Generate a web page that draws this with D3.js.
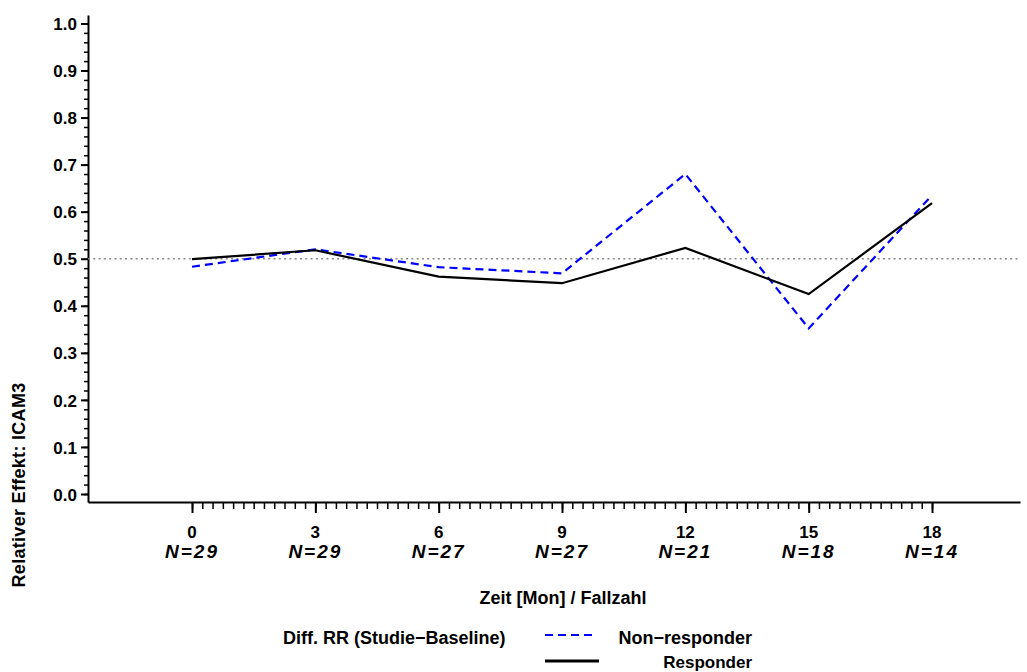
<!DOCTYPE html>
<html>
<head>
<meta charset="utf-8">
<script src="https://cdn.jsdelivr.net/npm/d3@7"></script>
<style>
  body { margin: 0; background: #fff; }
  svg { display: block; font-family: "Liberation Sans", Arial, sans-serif; font-weight: bold; }
  .axis path, .axis line { stroke: #000; stroke-width: 2; }
  .minor line { stroke-width: 1.5; }
  .axis text { fill: #000; font-size: 17px; font-weight: bold; }
</style>
</head>
<body>
<svg width="1027" height="672"></svg>
<script>
const months = [0, 3, 6, 9, 12, 15, 18];
const caseCounts = [29, 29, 27, 27, 21, 18, 14];
const nonResponder = [0.483, 0.520, 0.482, 0.469, 0.680, 0.352, 0.635];
const responder = [0.499, 0.518, 0.462, 0.448, 0.523, 0.425, 0.618];
const yTicks = [0, 0.1, 0.2, 0.3, 0.4, 0.5, 0.6, 0.7, 0.8, 0.9, 1.0];
const reference = 0.5;

(function () {
  const svg = d3.select("svg");

  const x = d3.scaleLinear().domain([-2.53, 20.14]).range([88, 1020]);
  const y = d3.scaleLinear().domain([-0.017, 1.018]).range([502, 15]);

  const xMinor = d3.range(0, 18.001, 0.25);
  const yMinor = d3.range(0, 1.0001, 0.02);

  // minor ticks first, majors on top
  svg.append("g")
    .attr("class", "axis minor")
    .attr("transform", `translate(0,${y.range()[0]})`)
    .call(d3.axisBottom(x).tickValues(xMinor).tickSize(7).tickFormat(""))
    .select(".domain").remove();

  svg.append("g")
    .attr("class", "axis minor")
    .attr("transform", `translate(${x.range()[0]},0)`)
    .call(d3.axisLeft(y).tickValues(yMinor).tickSize(4).tickFormat(""))
    .select(".domain").remove();

  svg.append("g")
    .attr("class", "axis")
    .attr("transform", `translate(0,${y.range()[0]})`)
    .call(d3.axisBottom(x).tickValues(months).tickSize(11).tickSizeOuter(0).tickFormat(""));

  const yAxis = svg.append("g")
    .attr("class", "axis")
    .attr("transform", `translate(${x.range()[0]},0)`)
    .call(d3.axisLeft(y).tickValues(yTicks).tickSize(7).tickSizeOuter(0)
      .tickPadding(4).tickFormat(d3.format(".1f")));
  yAxis.selectAll("text").attr("dy", "0.36em");

  // two-line x tick labels: month and case count
  const xLab = svg.append("g").selectAll("g")
    .data(months)
    .join("g")
    .attr("transform", (d) => `translate(${x(d)},0)`);
  xLab.append("text")
    .attr("y", 538)
    .attr("text-anchor", "middle")
    .attr("font-size", 17)
    .text((d) => d);
  xLab.append("text")
    .attr("y", 558)
    .attr("text-anchor", "middle")
    .attr("font-size", 19)
    .attr("letter-spacing", 2)
    .attr("font-style", "italic")
    .text((d, i) => `N=${caseCounts[i]}`);

  // axis titles
  svg.append("text")
    .attr("x", 563)
    .attr("y", 604)
    .attr("text-anchor", "middle")
    .attr("font-size", 18)
    .text("Zeit [Mon] / Fallzahl");

  svg.append("text")
    .attr("transform", "translate(25,485) rotate(-90)")
    .attr("text-anchor", "middle")
    .attr("font-size", 18)
    .attr("letter-spacing", 0.3)
    .text("Relativer Effekt: ICAM3");

  // reference line
  svg.append("line")
    .attr("x1", x.range()[0])
    .attr("x2", x.range()[1])
    .attr("y1", y(reference))
    .attr("y2", y(reference))
    .attr("stroke", "#888")
    .attr("stroke-width", 1.5)
    .attr("stroke-dasharray", "2,3.3");

  const line = d3.line()
    .x((d, i) => x(months[i]))
    .y((d) => y(d));

  svg.append("path")
    .datum(nonResponder)
    .attr("fill", "none")
    .attr("stroke", "#0000ff")
    .attr("stroke-width", 2.2)
    .attr("stroke-dasharray", "8,5")
    .attr("d", line);

  svg.append("path")
    .datum(responder)
    .attr("fill", "none")
    .attr("stroke", "#000")
    .attr("stroke-width", 2.2)
    .attr("d", line);

  // legend
  const legend = svg.append("g");
  legend.append("text")
    .attr("x", 283)
    .attr("y", 644)
    .attr("font-size", 18)
    .text("Diff. RR (Studie\u2212Baseline)");

  legend.append("line")
    .attr("x1", 545).attr("x2", 596)
    .attr("y1", 635).attr("y2", 635)
    .attr("stroke", "#0000ff")
    .attr("stroke-width", 2)
    .attr("stroke-dasharray", "8,5");
  legend.append("text")
    .attr("x", 752)
    .attr("y", 644)
    .attr("text-anchor", "end")
    .attr("font-size", 18)
    .text("Non\u2212responder");

  legend.append("line")
    .attr("x1", 545).attr("x2", 599)
    .attr("y1", 661).attr("y2", 661)
    .attr("stroke", "#000")
    .attr("stroke-width", 3);
  legend.append("text")
    .attr("x", 752)
    .attr("y", 668)
    .attr("text-anchor", "end")
    .attr("font-size", 17)
    .text("Responder");
})();
</script>
</body>
</html>
